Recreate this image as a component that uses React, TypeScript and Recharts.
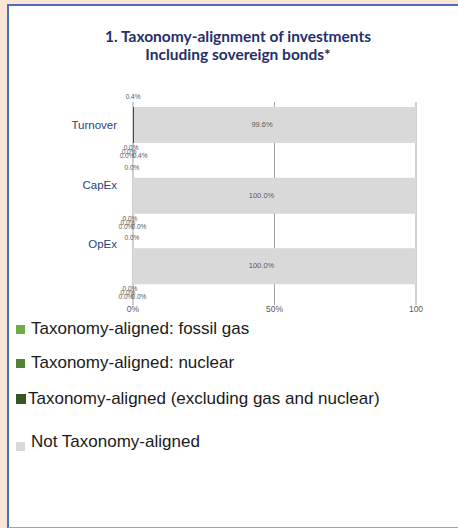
import { BarChart, Bar, XAxis, YAxis, CartesianGrid, LabelList } from "recharts";

// values (percent)
const categories = ["Turnover", "CapEx", "OpEx"];
const fossilGas = [0.0, 0.0, 0.0];
const nuclear = [0.0, 0.0, 0.0];
const alignedExcl = [0.4, 0.0, 0.0];
const notAligned = [99.6, 100.0, 100.0];

const xTicks = [0, 50, 100];
const xTickLabels = ["0%", "50%", "100"];

const seriesKeys = ["gas", "nuclear", "aligned", "notAligned"];
const seriesNames = [
  "Taxonomy-aligned: fossil gas",
  "Taxonomy-aligned: nuclear",
  "Taxonomy-aligned (excluding gas and nuclear)",
  "Not Taxonomy-aligned",
];
const seriesColors = ["#70ad47", "#548235", "#375623", "#d9d9d9"];

const data = categories.map((name, i) => ({
  name,
  gas: fossilGas[i],
  nuclear: nuclear[i],
  aligned: alignedExcl[i],
  notAligned: notAligned[i],
}));

const pct = (v: number) => `${v.toFixed(1)}%`;
const font = "'Liberation Sans', Arial, sans-serif";

// tiny grey data labels; zero-width bars get no label from recharts,
// so they are hung off the grey bar's rectangle instead
const smallLabel =
  (values: number[], centred: boolean, dx: number, dy: number, below: boolean, size = 6.5) =>
  (props: any) => {
    const { x, y, width, height, index } = props;
    const lx = (centred ? x + width / 2 : x) + dx;
    const ly = below ? y + height + dy : y + dy;
    return (
      <text key={`${dx}-${dy}-${index}`} x={lx} y={ly} fontSize={size} fill="#595959" textAnchor="middle" fontFamily={font}>
        {pct(values[index])}
      </text>
    );
  };

function CategoryTick(props: any) {
  const { x, y, payload } = props;
  const i = categories.indexOf(payload.value);
  return (
    <text x={x} y={y - i * 11} dy={3.5} textAnchor="end" fontSize={11.5} fill="#283f80" fontFamily={font}>
      {payload.value}
    </text>
  );
}

const gridLine = (p: any) => (
  <line key={p.key} x1={p.x1} x2={p.x2} y1={p.y1 + 12} y2={p.y2} stroke="#a0a0a0" strokeWidth={1} />
);

export default function App() {
  return (
    <div style={{ position: "fixed", left: 0, top: 0, width: 458, height: 528, background: "#fbe5d6", overflow: "hidden" }}>
      <div
        style={{
          position: "absolute",
          left: 7,
          top: 4,
          width: 460,
          height: 521,
          background: "#fff",
          borderLeft: "2px solid #4a6fb5",
          borderTop: "2px solid #4a6fb5",
          borderBottom: "1px solid #8ea6d6",
        }}
      />
      <div
        style={{
          position: "absolute",
          left: 0,
          top: 27,
          width: 476,
          textAlign: "center",
          fontFamily: "Lato, sans-serif",
          fontWeight: "bold",
          fontSize: 15.5,
          lineHeight: "18px",
          color: "#25306a",
        }}
      >
        1. Taxonomy-alignment of investments
        <br />
        Including sovereign bonds*
      </div>

      <div style={{ position: "absolute", left: 0, top: 0 }}>
        <BarChart
          width={458}
          height={320}
          data={data}
          layout="vertical"
          margin={{ top: 90, right: 42, bottom: 0, left: 73 }}
          barSize={36}
        >
          <CartesianGrid horizontal={false} vertical={gridLine} />
          <XAxis
            type="number"
            domain={[0, 100]}
            ticks={xTicks}
            tickFormatter={(v: number) => xTickLabels[xTicks.indexOf(v)]}
            axisLine={false}
            tickLine={{ stroke: "#a0a0a0" }}
            tickSize={3}
            tickMargin={1}
            height={18}
            tick={{ fontSize: 8.5, fill: "#595959", fontFamily: font }}
            interval={0}
          />
          <YAxis
            type="category"
            dataKey="name"
            width={60}
            axisLine={false}
            tickLine={false}
            tickMargin={10}
            tick={<CategoryTick />}
            interval={0}
          />
          <Bar dataKey="gas" stackId="a" fill={seriesColors[0]} isAnimationActive={false} />
          <Bar dataKey="nuclear" stackId="a" fill={seriesColors[1]} isAnimationActive={false} />
          <Bar dataKey="aligned" stackId="a" fill={seriesColors[2]} isAnimationActive={false} />
          <Bar dataKey="notAligned" stackId="a" fill={seriesColors[3]} isAnimationActive={false}>
            <LabelList content={smallLabel(notAligned, true, -13, 20, false, 7.5)} />
            <LabelList content={smallLabel(alignedExcl, false, -1, -8, false)} />
            <LabelList content={smallLabel(fossilGas, false, -3, 7, true)} />
            <LabelList content={smallLabel(nuclear, false, -5, 11, true)} />
            <LabelList content={smallLabel(fossilGas, false, -7, 15, true)} />
            <LabelList content={smallLabel(alignedExcl, false, 6, 15, true)} />
          </Bar>
        </BarChart>
      </div>

      {/* legend */}
      {seriesKeys.map((k, i) => {
        const tops = [319, 353, 389, 432];
        return (
          <div
            key={k}
            style={{
              position: "absolute",
              left: 16,
              top: tops[i],
              display: "flex",
              alignItems: "center",
              fontFamily: font,
              fontSize: 17,
              color: "#1a1a1a",
              lineHeight: "20px",
            }}
          >
            <span
              style={{
                display: "inline-block",
                width: i === 2 ? 10 : 9,
                height: i === 2 ? 10 : 9,
                background: seriesColors[i],
                marginRight: i === 2 ? 2 : 6,
                marginTop: i === 3 ? 8 : 0,
              }}
            />
            {seriesNames[i]}
          </div>
        );
      })}
    </div>
  );
}
